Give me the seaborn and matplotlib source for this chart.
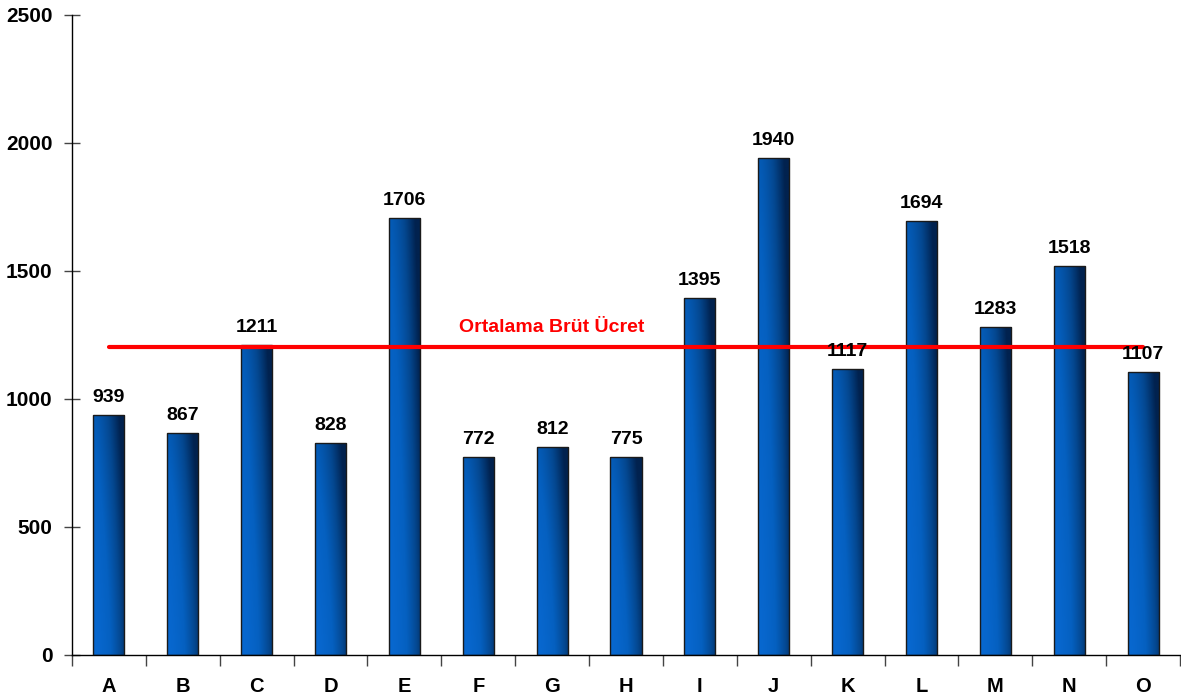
import numpy as np
import seaborn as sns
import matplotlib.pyplot as plt
from matplotlib.patches import Rectangle
from matplotlib.colors import LinearSegmentedColormap

# veriler
kategoriler = ['A', 'B', 'C', 'D', 'E', 'F', 'G', 'H', 'I', 'J', 'K', 'L', 'M', 'N', 'O']
ucretler = [939, 867, 1211, 828, 1706, 772, 812, 775, 1395, 1940, 1117, 1694, 1283, 1518, 1107]
ortalama = 1203
ortalama_etiket = 'Ortalama Brüt Ücret'
y_ticks = [0, 500, 1000, 1500, 2000, 2500]

sns.set_style('white')
plt.rcParams['font.family'] = ['Liberation Sans', 'DejaVu Sans']
plt.rcParams['font.weight'] = 'bold'
plt.rcParams['text.color'] = 'black'

fig = plt.figure(figsize=(11.81, 6.98), dpi=100)
ax = fig.add_axes([72 / 1181, 43 / 698, 1108 / 1181, 640 / 698])

sns.barplot(x=kategoriler, y=ucretler, color='#0a5cb8', width=0.42,
            linewidth=0, ax=ax, zorder=2)

# bar gradyanı (sol mavi -> sağ/alt koyu lacivert)
cmap = LinearSegmentedColormap.from_list('mavi', ['#0868d0', '#0560c0', '#04478f', '#01224f'])
gx = np.linspace(0, 1, 64)
gy = np.linspace(0, 1, 64)
GX, GY = np.meshgrid(gx, gy)
grad = np.clip(0.8 * GX ** 1.5 + 0.4 * GY ** 1.3, 0, 1)
for p in list(ax.patches):
    x0, y0 = p.get_x(), p.get_y()
    w, h = p.get_width(), p.get_height()
    im = ax.imshow(grad, cmap=cmap, extent=[x0, x0 + w, y0 + h, y0], aspect='auto',
                   origin='upper', zorder=2.5, vmin=0, vmax=1)
    im.set_clip_path(p)
    ax.add_patch(Rectangle((x0, y0), w, h, fill=False, edgecolor='#1a1a1a',
                           linewidth=1.0, zorder=3))

# ortalama çizgisi
ax.plot([0, len(kategoriler) - 1], [ortalama, ortalama], color='#ff0000', linewidth=3, zorder=4)
ax.text(6, ortalama + 45, ortalama_etiket, color='#ff0000', fontsize=14,
        fontweight='bold', ha='center', va='bottom', zorder=5)

# değer etiketleri
for i, v in enumerate(ucretler):
    ax.text(i, v + 35, str(v), ha='center', va='bottom', fontsize=14,
            fontweight='bold', color='black', zorder=6)

ax.set_xlim(-0.5, len(kategoriler) - 0.5)
ax.set_ylim(0, 2500)
ax.set_yticks(y_ticks)
ax.set_yticklabels([str(t) for t in y_ticks], fontsize=15, fontweight='bold', color='black')
ax.set_xticks(range(len(kategoriler)))
ax.set_xticklabels(kategoriler, fontsize=14.5, fontweight='bold', color='black')
ax.set_xticks(np.arange(-0.5, len(kategoriler)), minor=True)
ax.tick_params(axis='x', which='both', bottom=True)
ax.tick_params(axis='x', which='major', length=0, pad=16)
ax.tick_params(axis='x', which='minor', direction='out', length=8, width=1, color='#444444')
ax.tick_params(axis='y', left=True, direction='inout', length=12, width=1, color='#444444', pad=8)
ax.set_xlabel('')
ax.set_ylabel('')

for s in ['top', 'right']:
    ax.spines[s].set_visible(False)
for s in ['left', 'bottom']:
    ax.spines[s].set_color('black')
    ax.spines[s].set_linewidth(1.0)

fig.savefig('out.png', dpi=100)
